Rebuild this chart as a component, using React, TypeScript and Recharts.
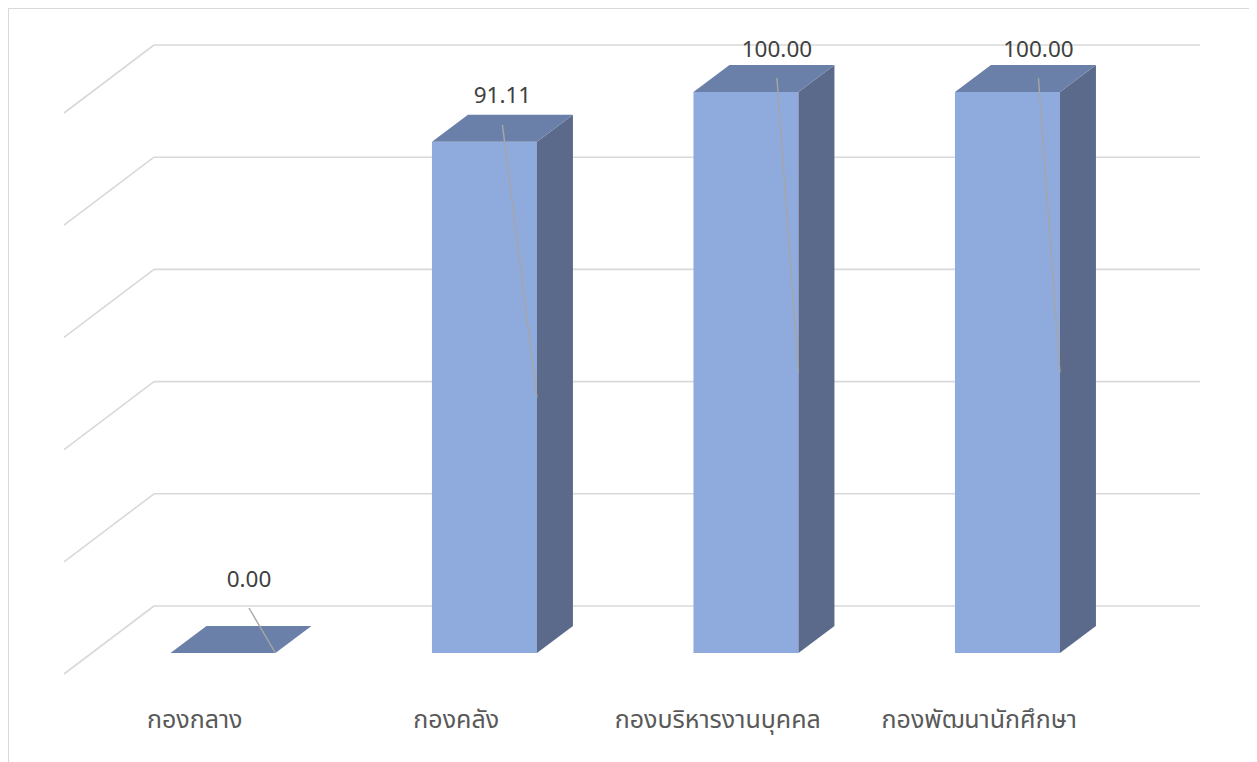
import { Bar, BarChart, CartesianGrid, LabelList, XAxis, YAxis } from "recharts";

const categories = ["กองกลาง", "กองคลัง", "กองบริหารงานบุคคล", "กองพัฒนานักศึกษา"];
const scores = [0, 91.11, 100, 100];
const valueTicks = [0, 20, 40, 60, 80, 100];

const data = categories.map((name, i) => ({ name, score: scores[i] }));

// fake 3D: bar depth, wall behind the bars, floor edge in front of them
const DEPTH_X = 36;
const DEPTH_Y = 27;
const WALL_X = 62;
const WALL_Y = 47;
const FLOOR_X = 28;
const FLOOR_Y = 21;

// where each value tag sits, relative to the back-top centre of its bar
const TAG_NUDGE = [
  { dx: 8, dy: -48 },
  { dx: 0, dy: -20 },
  { dx: 13, dy: -17 },
  { dx: 13, dy: -17 },
];

const FRONT = "#8FAADC";
const TOP = "#6A80A8";
const SIDE = "#5B6A8B";
const GRID = "#D9D9D9";
const LEADER = "#A6A6A6";

function WallLine(props: any) {
  const { x1, x2, y1 } = props;
  const wy = y1 - WALL_Y;
  return (
    <g>
      <line x1={x1 + WALL_X} y1={wy} x2={x2 + WALL_X} y2={wy} stroke={GRID} strokeWidth={1.6} />
      <line x1={x1 + WALL_X} y1={wy} x2={x1 - FLOOR_X} y2={y1 + FLOOR_Y} stroke={GRID} strokeWidth={1.6} />
    </g>
  );
}

function Box(props: any) {
  const { x, y, width: w, height: h } = props;
  const top = `${x},${y} ${x + w},${y} ${x + w + DEPTH_X},${y - DEPTH_Y} ${x + DEPTH_X},${y - DEPTH_Y}`;
  const side = `${x + w},${y} ${x + w + DEPTH_X},${y - DEPTH_Y} ${x + w + DEPTH_X},${y + h - DEPTH_Y} ${x + w},${y + h}`;
  return (
    <g>
      {h > 0 && <rect x={x} y={y} width={w} height={h} fill={FRONT} />}
      {h > 0 && <polygon points={side} fill={SIDE} />}
      <polygon points={top} fill={TOP} />
    </g>
  );
}

function ValueTag(props: any) {
  const box = props.viewBox ?? props;
  const { x, y, width, height } = box;
  const { value, index } = props;
  const nudge = TAG_NUDGE[index] ?? { dx: 0, dy: -20 };
  const cx = x + width / 2 + DEPTH_X / 2 + nudge.dx;
  const cy = y - DEPTH_Y + nudge.dy;
  return (
    <g>
      <line
        x1={cx}
        y1={cy + 30}
        x2={x + width}
        y2={y + height / 2}
        stroke={LEADER}
        strokeWidth={1.4}
      />
      <text
        x={cx}
        y={cy}
        textAnchor="middle"
        dominantBaseline="central"
        fontFamily='"Noto Sans", sans-serif'
        fontSize={22.5}
        fill="#404040"
      >
        {Number(value).toFixed(2)}
      </text>
    </g>
  );
}

function CategoryTick(props: any) {
  const { x, y, payload } = props;
  return (
    <text
      x={x - FLOOR_X}
      y={y + 67}
      textAnchor="middle"
      dominantBaseline="central"
      fontFamily='"Noto Sans Thai", "Noto Sans", sans-serif'
      fontSize={25}
      fill="#595959"
    >
      {payload.value}
    </text>
  );
}

export default function App() {
  return (
    <div
      style={{
        width: 1249,
        height: 754,
        borderTop: `1px solid ${GRID}`,
        borderLeft: `1px solid ${GRID}`,
        boxSizing: "border-box",
        overflow: "hidden",
        background: "#fff",
      }}
    >
      <BarChart
        width={1248}
        height={753}
        data={data}
        margin={{ top: 83, right: 119, bottom: 29, left: 83 }}
        barCategoryGap="30%"
      >
        <CartesianGrid vertical={false} horizontal={WallLine} />
        <XAxis
          dataKey="name"
          axisLine={false}
          tickLine={false}
          tickSize={0}
          tickMargin={0}
          height={80}
          tick={<CategoryTick />}
          interval={0}
        />
        <YAxis hide domain={[0, 100]} ticks={valueTicks} />
        <Bar dataKey="score" shape={<Box />} isAnimationActive={false}>
          <LabelList dataKey="score" content={<ValueTag />} />
        </Bar>
      </BarChart>
    </div>
  );
}
